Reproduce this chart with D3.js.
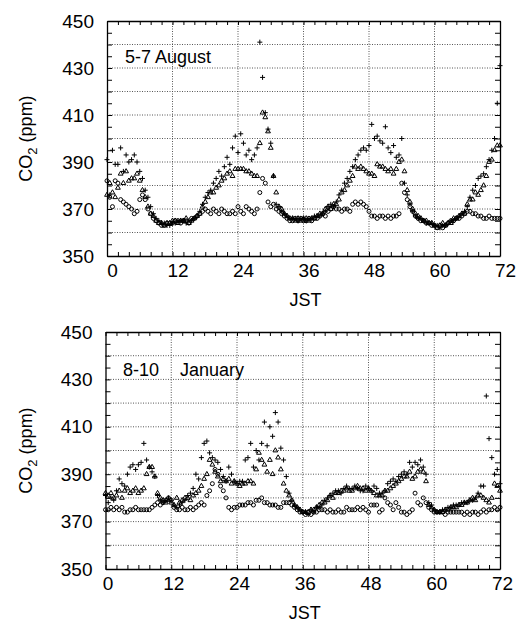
<!DOCTYPE html>
<html>
<head>
<meta charset="utf-8">
<title>CO2 JST</title>
<script src="https://d3js.org/d3.v7.min.js"></script>
<style>
  body { margin: 0; background: #fff; }
  svg text { font-family: "Liberation Sans", Arial, Helvetica, sans-serif; fill: #000; }
  .grid { stroke: #444; stroke-width: 0.9; stroke-dasharray: 1,1.5; }
  .domain { stroke: #000; stroke-width: 1.3; }
  .tick line { stroke: #000; stroke-width: 1; }
  .mk { fill: none; stroke: #000; stroke-width: 1; }
</style>
</head>
<body>
<div id="chart"></div>
<script>
// readings every half hour, t = index * step (JST hours)
var step = 0.5;
var xTicks = [0, 12, 24, 36, 48, 60, 72];
var yTicks = [350, 370, 390, 410, 430, 450];

// 5-7 August (one row = 6 hours)
var augPlus = [
  391,376,395,389,389,396,386,393,390,391,393,390,
  386,383,378,375,371,368,366,365,364,364,363,363,
  364,364,365,365,365,364,365,365,366,367,369,372,
  375,377,378,381,383,386,384,388,392,389,396,401,
  394,402,398,393,395,391,393,396,441,426,411,404,
  398,384,372,371,369,368,367,366,366,366,365,366,
  366,365,366,366,367,367,367,368,369,371,372,371,
  373,376,378,381,383,386,388,391,393,395,396,395,
  397,406,400,401,399,398,405,396,394,397,392,393,
  400,381,376,372,369,367,366,366,365,364,364,364,
  363,363,362,363,363,364,365,365,366,367,368,369,
  371,375,378,380,383,384,385,388,391,395,400,415,
  431];
var augTri = [
  376,381,377,375,379,385,381,386,382,383,383,385,
  382,378,375,371,368,367,365,364,364,363,364,364,
  365,365,364,365,365,366,364,365,366,367,368,371,
  373,375,377,377,379,380,382,383,385,386,384,387,
  387,387,387,386,386,385,384,384,398,411,409,403,
  396,384,377,371,370,368,367,366,366,365,366,365,
  366,366,365,366,366,367,368,368,370,371,370,372,
  372,374,377,378,380,382,384,388,387,388,387,386,
  385,385,384,389,388,388,387,386,387,385,387,390,
  391,386,378,373,370,368,367,366,365,365,364,364,
  363,362,363,364,363,364,364,366,366,367,368,368,
  372,374,374,377,376,378,380,384,390,391,395,397,
  397];
var augCirc = [
  382,375,371,382,381,374,373,372,371,370,368,369,
  374,376,374,370,368,366,365,364,363,363,364,364,
  364,365,365,364,365,365,364,366,366,367,368,369,
  370,369,368,370,369,368,370,369,368,368,369,368,
  371,369,368,371,370,369,368,370,377,383,381,373,
  371,372,370,369,368,367,366,365,365,366,365,366,
  365,365,366,365,366,366,367,368,367,369,370,371,
  370,370,369,370,370,369,372,373,372,373,372,371,
  369,367,367,366,367,367,366,367,366,367,367,368,
  381,377,374,371,369,367,366,365,365,364,364,363,
  363,362,363,362,363,364,365,365,366,366,367,368,
  369,369,368,368,367,367,366,366,367,366,366,366,
  366];

// 8-10 January
var janPlus = [
  381,378,380,379,383,388,386,385,390,393,394,392,
  394,395,403,396,393,391,389,381,379,378,379,380,
  379,377,376,377,378,379,381,382,384,390,388,397,
  403,404,399,397,396,395,392,389,387,393,390,387,
  386,387,387,396,397,403,393,400,396,403,412,402,
  410,406,416,412,401,396,389,382,379,377,376,375,
  374,374,373,375,374,376,376,377,379,380,381,382,
  383,383,382,384,385,384,384,385,384,383,383,385,
  384,383,385,384,382,382,383,386,387,388,387,389,
  390,391,390,395,393,395,394,396,393,390,378,377,
  375,374,374,375,375,376,376,377,377,377,378,378,
  378,379,379,380,382,385,385,423,405,397,390,392,
  386];
var janTri = [
  382,381,382,380,381,383,380,383,384,382,383,384,
  382,383,384,390,393,393,389,382,380,379,378,379,
  378,377,380,378,379,380,380,379,381,382,383,385,
  388,390,396,394,391,389,387,388,387,388,386,387,
  386,385,386,386,387,387,386,392,399,396,394,391,
  396,390,400,397,392,386,383,381,379,377,376,375,
  374,374,374,375,375,376,377,378,378,379,381,380,
  382,382,383,383,384,383,383,384,385,384,384,383,
  384,383,382,381,381,381,383,383,384,385,386,387,
  388,389,389,391,388,389,391,392,391,387,377,376,
  375,374,374,374,375,375,376,376,376,377,377,378,
  378,379,380,379,381,381,380,379,378,380,386,385,
  383];
var janCirc = [
  375,375,376,375,376,375,376,374,374,375,375,376,
  375,375,375,375,375,376,377,378,377,378,379,380,
  379,376,375,375,376,375,375,376,375,376,377,378,
  377,381,383,386,392,390,385,383,380,376,375,376,
  376,377,377,377,378,378,377,379,379,380,378,378,
  377,377,377,376,376,378,378,378,377,376,375,374,
  374,373,374,373,374,374,375,375,375,374,375,374,
  374,375,374,374,376,375,375,375,376,375,376,375,
  374,377,377,377,374,375,380,378,377,375,378,376,
  374,374,373,374,375,382,378,377,380,378,376,375,
  374,374,374,374,373,374,374,374,374,374,374,373,
  374,373,374,374,373,374,375,374,375,375,376,375,
  376];

var panels = [
  {labels: [["5-7 August", 125]], labelY: 63, plus: augPlus, tri: augTri, circ: augCirc,
   left: 107, right: 500, top: 21, bottom: 256, shift: 5},
  {labels: [["8-10", 123], ["January", 180]], labelY: 376, plus: janPlus, tri: janTri, circ: janCirc,
   left: 105.5, right: 500, top: 332, bottom: 569, shift: 2}
];

var svg = d3.select("#chart").append("svg")
  .attr("width", 518).attr("height", 624);

function points(arr) {
  return arr.map(function (v, i) { return {t: i * step, v: v}; })
    .filter(function (d) { return d.v != null; });
}

function drawPanel(p) {
  var x = d3.scaleLinear().domain([0, 72]).range([p.left, p.right]);
  var y = d3.scaleLinear().domain([350, 450]).range([p.bottom, p.top]);
  var g = svg.append("g");

  // dotted grid
  g.selectAll("line.hg").data(y.ticks(10).slice(1, -1)).enter().append("line")
    .attr("class", "grid hg")
    .attr("x1", p.left).attr("x2", p.right)
    .attr("y1", function (d) { return y(d); }).attr("y2", function (d) { return y(d); });
  g.selectAll("line.vg").data(xTicks.slice(1, -1)).enter().append("line")
    .attr("class", "grid vg")
    .attr("x1", function (d) { return x(d); }).attr("x2", function (d) { return x(d); })
    .attr("y1", p.top).attr("y2", p.bottom);

  var minorX = d3.range(0, 73, 2), minorY = d3.range(350, 451, 5);

  var bx = g.append("g").attr("transform", "translate(0," + p.bottom + ")")
    .call(d3.axisBottom(x).tickValues(minorX).tickSizeInner(-4).tickSizeOuter(0).tickPadding(8)
      .tickFormat(function (d) { return xTicks.indexOf(d) >= 0 ? d : ""; }));
  bx.attr("font-size", 19).attr("font-family", null);
  bx.selectAll("text").attr("dx", p.shift);

  g.append("g").attr("transform", "translate(0," + p.top + ")")
    .call(d3.axisTop(x).tickValues(minorX).tickSizeInner(-4).tickSizeOuter(0).tickFormat(""));

  var ly = g.append("g").attr("transform", "translate(" + p.left + ",0)")
    .call(d3.axisLeft(y).tickValues(minorY).tickSizeInner(-5).tickSizeOuter(0).tickPadding(13)
      .tickFormat(function (d) { return yTicks.indexOf(d) >= 0 ? d : ""; }));
  ly.attr("font-size", 19).attr("font-family", null);

  g.append("g").attr("transform", "translate(" + p.right + ",0)")
    .call(d3.axisRight(y).tickValues(minorY).tickSizeInner(-5).tickSizeOuter(0).tickFormat(""));

  // markers
  g.selectAll("circle.c").data(points(p.circ)).enter().append("circle")
    .attr("class", "mk c")
    .attr("cx", function (d) { return x(d.t); })
    .attr("cy", function (d) { return y(d.v); })
    .attr("r", 2);
  g.selectAll("path.tr").data(points(p.tri)).enter().append("path")
    .attr("class", "mk tr")
    .attr("d", d3.symbol(d3.symbolTriangle, 10))
    .attr("transform", function (d) { return "translate(" + x(d.t) + "," + y(d.v) + ")"; });
  g.selectAll("path.pl").data(points(p.plus)).enter().append("path")
    .attr("class", "mk pl")
    .attr("d", "M-2.5,0H2.5M0,-2.5V2.5")
    .attr("transform", function (d) { return "translate(" + x(d.t) + "," + y(d.v) + ")"; });

  // panel label
  p.labels.forEach(function (l) {
    g.append("text").attr("x", l[1]).attr("y", p.labelY)
      .attr("font-size", 18).text(l[0]);
  });

  // axis titles
  g.append("text")
    .attr("x", (p.left + p.right) / 2 + 2).attr("y", p.bottom + 50)
    .attr("text-anchor", "middle").attr("font-size", 18).text("JST");

  var yt = g.append("text")
    .attr("transform", "translate(32," + ((p.top + p.bottom) / 2) + ") rotate(-90)")
    .attr("text-anchor", "middle").attr("font-size", 18);
  yt.append("tspan").text("CO");
  yt.append("tspan").attr("font-size", 13).attr("dy", 5).text("2");
  yt.append("tspan").attr("dy", -5).text(" (ppm)");
}

panels.forEach(drawPanel);
</script>
</body>
</html>
